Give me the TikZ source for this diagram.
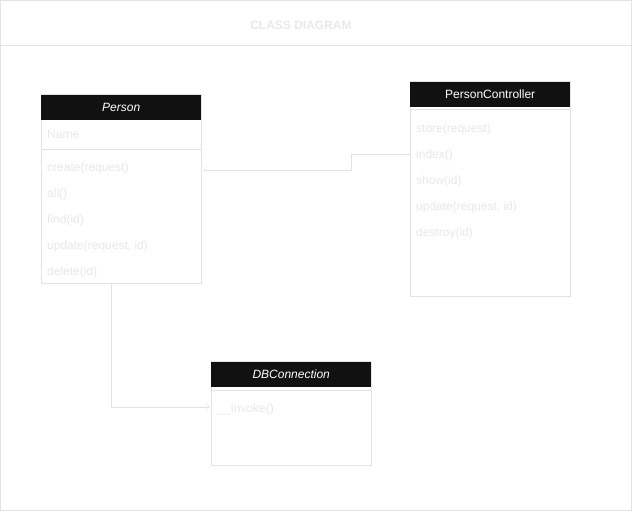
\documentclass[tikz,border=0pt]{standalone}
\usepackage{fontspec}
\setmainfont{Liberation Sans}
\usetikzlibrary{arrows.meta}
\definecolor{lineGray}{HTML}{E3E3E3}
\definecolor{textGray}{HTML}{E8E8E8}
\definecolor{headBlack}{HTML}{111111}
\tikzstyle{classBody} = [rectangle, draw=lineGray, fill=white, anchor=north west, minimum width=160pt, inner sep=0pt]
\tikzstyle{classHead} = [rectangle, fill=headBlack, anchor=north west, minimum width=160pt, minimum height=25pt, inner sep=0pt, text=white, font=\fontsize{12}{14}\selectfont]
\tikzstyle{member} = [anchor=west, inner sep=0pt, text=textGray, font=\fontsize{12}{14}\selectfont]
\tikzstyle{sepLine} = [draw=lineGray]
\tikzstyle{arrow} = [draw=lineGray, ->, >={Straight Barb[length=4pt, width=7pt]}]

\begin{document}
\begin{tikzpicture}[x=1pt, y=-1pt]

\useasboundingbox (0,0) rectangle (633,511);
\draw[lineGray] (0.5,0.5) rectangle (631,510.5);
\draw[lineGray] (0.5,45) -- (631,45);
\node (title) [text=textGray, font=\bfseries\fontsize{12}{14}\selectfont] at (301,25) {CLASS DIAGRAM};

% Person
\node (person) [classBody, minimum height=189pt] at (41,94) {};
\node (personHead) [classHead] at (41,94.5) {\textit{Person}};
\draw[sepLine] (person.west |- 0,149) -- (person.east |- 0,149);
\node (name) [member] at (47,134) {Name};
\node (create) [member] at (47,168) {create(request)};
\node (all) [member] at (47,194) {all()};
\node (find) [member] at (47,220) {find(id)};
\node (update) [member] at (47,246) {update(request, id)};
\node (delete) [member] at (47,272) {delete(id)};

% PersonController
\node (ctrl) [classBody, minimum height=215pt] at (410,81) {};
\node (ctrlHead) [classHead] at (410,81.5) {PersonController};
\draw[sepLine] (ctrl.west |- 0,109) -- (ctrl.east |- 0,109);
\node (store) [member] at (416,129) {store(request)};
\node (index) [member] at (416,155) {index()};
\node (show) [member] at (416,181) {show(id)};
\node (ctrlUpdate) [member] at (416,207) {update(request, id)};
\node (destroy) [member] at (416,233) {destroy(id)};

% DBConnection
\node (db) [classBody, minimum height=104pt] at (211,361) {};
\node (dbHead) [classHead] at (211,361.5) {\textit{DBConnection}};
\draw[sepLine] (db.west |- 0,390) -- (db.east |- 0,390);
\node (invoke) [member] at (217,409) {\_\_Invoke()};

\coordinate (ctrlOut) at (410,154);
\coordinate (personIn) at (203,170);
\coordinate (personOut) at (111,283);
\coordinate (dbIn) at (210,407);

\draw[arrow] (ctrlOut) -- ++(-59,0) |- (personIn);
\draw[arrow] (personOut) |- (dbIn);

\end{tikzpicture}
\end{document}
